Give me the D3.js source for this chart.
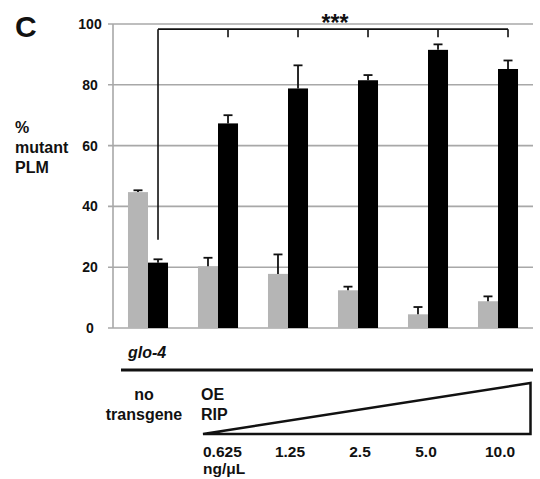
<!DOCTYPE html>
<html>
<head>
<meta charset="utf-8">
<script src="https://cdn.jsdelivr.net/npm/d3@7"></script>
<style>
  html, body { margin: 0; padding: 0; background: #fff; }
  svg { display: block; font-family: "Liberation Sans", Arial, sans-serif; font-weight: bold; }
</style>
</head>
<body>
<svg id="chart" width="540" height="479"></svg>
<script>
// ---- data ----
const groups = ["none", "0.625", "1.25", "2.5", "5.0", "10.0"];
const series = ["gray", "black"];
const grayValues  = [44.7, 20.3, 17.8, 12.4, 4.5, 8.8];
const grayErrors  = [0.6, 2.8, 6.4, 1.2, 2.4, 1.6];
const blackValues = [21.5, 67.3, 78.8, 81.5, 91.5, 85.2];
const blackErrors = [1.1, 2.7, 7.6, 1.7, 1.8, 2.8];
const yTicks = [0, 20, 40, 60, 80, 100];
const concLabels = ["0.625", "1.25", "2.5", "5.0", "10.0"];
const sigLabel = "***";
const bracketLevel = 98.3;
const bracketLegBottom = 29;

const svg = d3.select("#chart");
const gridColor = "#a8a8a8";
const grayFill = "#b5b5b5";

const y = d3.scaleLinear().domain([0, 100]).range([328, 24]);
const x = d3.scaleBand().domain(groups).range([113, 533]).padding(0);
const xs = d3.scaleBand().domain(series).range([x.bandwidth() * 0.214, x.bandwidth() * 0.786]).padding(0);

// gridlines
svg.append("g").selectAll("line").data(yTicks).join("line")
  .attr("x1", 108).attr("x2", 533)
  .attr("y1", d => y(d)).attr("y2", d => y(d))
  .attr("stroke", gridColor).attr("stroke-width", 1.6);

// y axis line
svg.append("line").attr("x1", 113).attr("x2", 113)
  .attr("y1", y(100)).attr("y2", y(0))
  .attr("stroke", gridColor).attr("stroke-width", 1.6);

// tick labels
svg.append("g").selectAll("text").data(yTicks).join("text")
  .attr("x", 90).attr("y", d => y(d) + 5)
  .attr("text-anchor", "middle").attr("font-size", 14).attr("fill", "#111")
  .text(d => d);

// significance bracket
const bx = i => x(groups[i]) + xs("black") + xs.bandwidth() / 2;
const by = y(bracketLevel);
const bg = svg.append("g").attr("stroke", "#111").attr("stroke-width", 1.6).attr("fill", "none");
bg.append("line").attr("x1", bx(0)).attr("x2", bx(5)).attr("y1", by).attr("y2", by);
bg.append("line").attr("x1", bx(0)).attr("x2", bx(0)).attr("y1", by).attr("y2", y(bracketLegBottom));
for (let i = 1; i < groups.length; i++) {
  bg.append("line").attr("x1", bx(i)).attr("x2", bx(i)).attr("y1", by).attr("y2", by + 8);
}
svg.append("text").attr("x", 335).attr("y", 31).attr("text-anchor", "middle")
  .attr("font-size", 23).attr("fill", "#111").text(sigLabel);

// bars
const seriesData = [
  { key: "gray", values: grayValues, errors: grayErrors, fill: grayFill },
  { key: "black", values: blackValues, errors: blackErrors, fill: "#000" }
];
seriesData.forEach(s => {
  const g = svg.append("g");
  g.selectAll("rect").data(s.values).join("rect")
    .attr("x", (d, i) => x(groups[i]) + xs(s.key))
    .attr("width", xs.bandwidth())
    .attr("y", d => y(d))
    .attr("height", d => y(0) - y(d))
    .attr("fill", s.fill);
  const eg = svg.append("g").attr("stroke", "#111").attr("stroke-width", 1.8);
  s.values.forEach((v, i) => {
    const cx = x(groups[i]) + xs(s.key) + xs.bandwidth() / 2;
    eg.append("line").attr("x1", cx).attr("x2", cx).attr("y1", y(v)).attr("y2", y(v + s.errors[i]));
    eg.append("line").attr("x1", cx - 4.5).attr("x2", cx + 4.5).attr("y1", y(v + s.errors[i])).attr("y2", y(v + s.errors[i]));
  });
});

// panel letter and y label
svg.append("text").attr("x", 15).attr("y", 37).attr("font-size", 30).attr("fill", "#111").text("C");
const ylab = svg.append("text").attr("font-size", 16).attr("fill", "#111");
["%", "mutant", "PLM"].forEach((t, i) => {
  ylab.append("tspan").attr("x", 15).attr("y", 133 + i * 20).text(t);
});

// bottom annotation
svg.append("text").attr("x", 128).attr("y", 358).attr("font-size", 16)
  .attr("font-style", "italic").attr("fill", "#111").text("glo-4");
svg.append("line").attr("x1", 121).attr("x2", 533).attr("y1", 370).attr("y2", 370)
  .attr("stroke", "#111").attr("stroke-width", 3);

svg.append("text").attr("x", 144).attr("y", 400).attr("text-anchor", "middle")
  .attr("font-size", 16).attr("fill", "#111").text("no");
svg.append("text").attr("x", 144).attr("y", 420).attr("text-anchor", "middle")
  .attr("font-size", 16).attr("fill", "#111").text("transgene");
svg.append("text").attr("x", 201).attr("y", 400)
  .attr("font-size", 16).attr("fill", "#111").text("OE");
svg.append("text").attr("x", 201).attr("y", 420)
  .attr("font-size", 16).attr("fill", "#111").text("RIP");

// concentration wedge
const tri = d3.path();
tri.moveTo(203, 434); tri.lineTo(530.5, 383); tri.lineTo(530.5, 434); tri.closePath();
svg.append("path").attr("d", tri.toString()).attr("fill", "none")
  .attr("stroke", "#111").attr("stroke-width", 2.5).attr("stroke-linejoin", "miter");

const concX = [203, 290, 360, 426, 500];
svg.append("g").selectAll("text").data(concLabels).join("text")
  .attr("x", (d, i) => concX[i])
  .attr("y", 457)
  .attr("text-anchor", (d, i) => i === 0 ? "start" : "middle")
  .attr("font-size", 15.5).attr("fill", "#111")
  .text(d => d);
svg.append("text").attr("x", 203).attr("y", 474).attr("font-size", 15.5).attr("fill", "#111").text("ng/μL");
</script>
</body>
</html>
